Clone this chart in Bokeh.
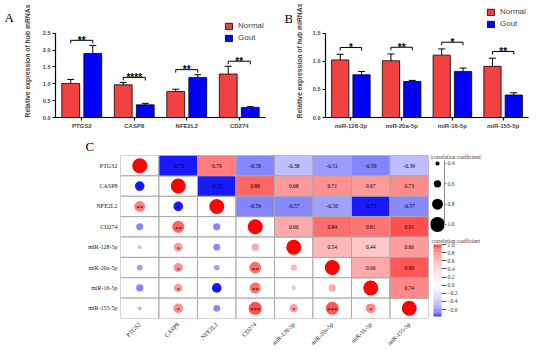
import numpy as np
from math import pi
from bokeh.plotting import figure
from bokeh.models import (ColumnDataSource, FactorRange, Range1d, FixedTicker, Legend, LegendItem,
                          Label, LinearColorMapper, CustomJSTickFormatter, PrintfTickFormatter, Title)
from bokeh.transform import dodge, transform
from bokeh.layouts import row, column
from bokeh.embed import file_html
from bokeh.resources import INLINE
from bokeh.core.properties import value

# ---------------- data ----------------
genes = ["PTGS2", "CASP8", "NFE2L2", "CD274"]
genes_normal = [1.01, 0.97, 0.77, 1.29]
genes_normal_sem = [0.12, 0.07, 0.07, 0.23]
genes_gout = [1.90, 0.375, 1.19, 0.30]
genes_gout_sem = [0.24, 0.045, 0.08, 0.02]
genes_sig = ["**", "****", "**", "**"]
genes_ticks = [0.0, 0.5, 1.0, 1.5, 2.0, 2.5]

mirs = ["miR-128-3p", "miR-20a-5p", "miR-16-5p", "miR-155-5p"]
mirs_normal = [1.025, 1.01, 1.11, 0.91]
mirs_normal_sem = [0.10, 0.12, 0.11, 0.145]
mirs_gout = [0.76, 0.64, 0.82, 0.40]
mirs_gout_sem = [0.06, 0.02, 0.06, 0.04]
mirs_sig = ["*", "**", "*", "**"]
mirs_ticks = [0.0, 0.5, 1.0, 1.5]

corr_names = ["PTGS2", "CASP8", "NFE2L2", "CD274",
              "miR-128-5p", "miR-20a-5p", "miR-16-5p", "miR-155-5p"]
corr_upper = [
    [-0.73, 0.79, -0.58, -0.38, -0.51, -0.59, -0.39],
    [-0.73, 0.86, 0.68, 0.71, 0.67, 0.73],
    [-0.59, -0.57, -0.50, -0.73, -0.57],
    [0.60, 0.84, 0.81, 0.91],
    [0.54, 0.44, 0.66],
    [0.60, 0.90],
    [0.74],
]
corr_stars = [
    ["*"],
    ["**", "*"],
    ["", "**", ""],
    ["", "*", "", ""],
    ["", "*", "", "**", ""],
    ["", "*", "*", "**", "", ""],
    ["", "*", "", "***", "*", "***", "*"],
]
size_legend_values = [0.4, 0.6, 0.8, 1.0]
colorbar_ticks = [1.0, 0.8, 0.6, 0.4, 0.2, 0.0, -0.2, -0.4, -0.6]
color_low, color_high = -0.77, 1.0

# ---------------- styles ----------------
SANS = "Liberation Sans"
SERIF = "Liberation Serif"
RED = "#f24141"
BLUE = "#0000ff"
RAMP_T = [0, 0.45, 0.6, 0.78, 0.9, 0.95, 1.0]
RAMP_G = [0, 0.22, 0.33, 0.5, 0.66, 0.9, 1.0]
TOP_H = 135
TOP_B, BOT_B = 4, 18


def ramp_palette(low, high, n=256):
    cols = []
    for i in range(n):
        v = low + (high - low) * (i + 0.5) / n
        if v >= 0:
            g = np.interp(v / high, RAMP_T, RAMP_G)
            c = int(round(255 * (1 - g)))
            cols.append("#%02x%02x%02x" % (255, c, c))
        else:
            g = np.interp(v / low, RAMP_T, RAMP_G)
            c = int(round(255 * (1 - g)))
            cols.append("#%02x%02x%02x" % (c, c, 255))
    return cols


def dot_size(r):
    return 15.0 * abs(r) ** 1.4


def letter_fig(letter, width, x, baseline_y):
    f = figure(width=width, height=TOP_H, x_range=Range1d(0, 1), y_range=Range1d(0, 1),
               x_axis_location=None, y_axis_location=None, min_border_left=0,
               min_border_right=0, min_border_top=TOP_B, min_border_bottom=BOT_B,
               toolbar_location=None, output_backend="svg")
    f.outline_line_color = None
    f.grid.visible = False
    f.add_layout(Label(x=x, y=TOP_H - BOT_B - baseline_y, x_units="screen", y_units="screen",
                       text=letter, text_font=SERIF, text_font_size="13px",
                       text_baseline="alphabetic", text_color="black"))
    return f


def bar_panel(cats, normal, nsem, gout, gsem, sig, ticks, ylabel, width, bl, br,
              ytop, gap, tick_len, legend_loc, label_standoff):
    p = figure(x_range=FactorRange(factors=cats), y_range=Range1d(0, ytop),
               width=width, height=TOP_H, min_border_left=bl, min_border_right=br,
               min_border_top=TOP_B, min_border_bottom=BOT_B, toolbar_location=None,
               output_backend="svg")
    ntop = [a + b for a, b in zip(normal, nsem)]
    gtop = [a + b for a, b in zip(gout, gsem)]
    br_y = [max(a, b) + gap for a, b in zip(ntop, gtop)]
    src = ColumnDataSource(dict(cat=cats, normal=normal, ntop=ntop, gout=gout, gtop=gtop,
                                bracket=br_y, bracket_low=[b - tick_len for b in br_y], sig=sig))
    xn = dodge("cat", -0.21, range=p.x_range)
    xg = dodge("cat", 0.21, range=p.x_range)
    rn = p.vbar(x=xn, top="normal", width=0.34, source=src, fill_color=RED,
                line_color="black", line_width=0.8)
    rg = p.vbar(x=xg, top="gout", width=0.34, source=src, fill_color=BLUE,
                line_color="black", line_width=0.8)
    for xx, lo, hi in ((xn, "normal", "ntop"), (xg, "gout", "gtop")):
        p.segment(x0=xx, y0=lo, x1=xx, y1=hi, source=src, line_color="black", line_width=1)
        p.scatter(x=xx, y=hi, source=src, marker="dash", size=7, line_color="black", line_width=1)
    p.segment(x0=xn, y0="bracket", x1=xg, y1="bracket", source=src, line_color="black", line_width=1)
    p.segment(x0=xn, y0="bracket", x1=xn, y1="bracket_low", source=src, line_color="black", line_width=1)
    p.segment(x0=xg, y0="bracket", x1=xg, y1="bracket_low", source=src, line_color="black", line_width=1)
    p.text(x="cat", y="bracket", text="sig", source=src, text_align="center",
           text_baseline="alphabetic", text_font=value(SANS), text_font_style="bold",
           text_font_size="10px", text_color="black")

    leg = Legend(items=[LegendItem(label="Normal", renderers=[rn]),
                        LegendItem(label="Gout", renderers=[rg])],
                 location=legend_loc, label_text_font=SANS, label_text_font_size="8px",
                 glyph_width=9, glyph_height=8, label_height=8, spacing=3, padding=0,
                 margin=0, border_line_color=None, background_fill_alpha=0, label_standoff=5)
    p.add_layout(leg)

    p.xgrid.visible = False
    p.ygrid.visible = False
    p.outline_line_color = None
    xa = p.xaxis[0]
    xa.axis_line_width = 1.2
    xa.major_tick_line_width = 1.2
    xa.major_tick_out = 3
    xa.major_tick_in = 0
    xa.major_label_text_font = SANS
    xa.major_label_text_font_style = "bold"
    xa.major_label_text_font_size = "6px"
    xa.major_label_standoff = 2
    ya = p.yaxis[0]
    ya.ticker = FixedTicker(ticks=ticks)
    ya.formatter = PrintfTickFormatter(format="%.1f")
    ya.bounds = (0, ticks[-1])
    ya.minor_tick_line_color = None
    ya.axis_line_width = 1.2
    ya.major_tick_line_width = 1.2
    ya.major_tick_out = 3
    ya.major_tick_in = 0
    ya.major_label_text_font = SANS
    ya.major_label_text_font_style = "bold"
    ya.major_label_text_font_size = "5.5px"
    ya.major_label_standoff = 2
    ya.axis_label = ylabel
    ya.axis_label_text_font = SANS
    ya.axis_label_text_font_style = "bold"
    ya.axis_label_text_font_size = "6.8px"
    ya.axis_label_standoff = label_standoff
    return p


lA = letter_fig("A", 20, 4, 17)
pA = bar_panel(genes, genes_normal, genes_normal_sem, genes_gout, genes_gout_sem, genes_sig,
               genes_ticks, "Relative expression of hub mRNAs", 260, 30, 15, 3.353,
               0.15, 0.09, (169, 75), 9)
lB = letter_fig("B", 12, 4, 18)
pB = bar_panel(mirs, mirs_normal, mirs_normal_sem, mirs_gout, mirs_gout_sem, mirs_sig,
               mirs_ticks, "Relative expression of hub miRNAs", 258, 28, 22, 2.011,
               0.12, 0.053, (161, 89), 7)

# ---------------- correlation panel ----------------
n = len(corr_names)
R = np.eye(n)
for i, vals in enumerate(corr_upper):
    for k, v in enumerate(vals):
        j = i + 1 + k
        R[i, j] = v
        R[j, i] = v

mapper = LinearColorMapper(palette=ramp_palette(color_low, color_high), low=color_low, high=color_high)

gx, gy = [], []
ux, uy, ur, ut = [], [], [], []
dx, dy, dr, ds, dst = [], [], [], [], []
for i in range(n):
    for j in range(n):
        gx.append(corr_names[j]); gy.append(corr_names[i])
        if j > i:
            ux.append(corr_names[j]); uy.append(corr_names[i]); ur.append(R[i, j])
            ut.append("%.2f" % R[i, j])
        else:
            dx.append(corr_names[j]); dy.append(corr_names[i]); dr.append(R[i, j])
            ds.append(dot_size(R[i, j]))
            dst.append(corr_stars[i - 1][j] if j < i else "")

pC = figure(x_range=FactorRange(factors=corr_names), y_range=FactorRange(factors=corr_names[::-1]),
            width=430, height=216, min_border_left=120, min_border_right=2, min_border_top=18,
            min_border_bottom=31, toolbar_location=None, output_backend="svg")
pC.title = Title(text="C", align="left", offset=-35, standoff=3, text_font=SERIF,
                 text_font_size="13px", text_font_style="normal", text_color="black")
pC.rect(x=gx, y=gy, width=1, height=1, fill_color="white", line_color="#a8a8a8", line_width=1)
usrc = ColumnDataSource(dict(x=ux, y=uy, r=ur, t=ut))
pC.rect(x="x", y="y", width=1, height=1, source=usrc, fill_color=transform("r", mapper),
        line_color="#a8a8a8", line_width=1)
pC.text(x="x", y="y", text="t", source=usrc, text_align="center", text_baseline="middle",
        text_font=value(SERIF), text_font_size="5.5px", text_color="black")
dsrc = ColumnDataSource(dict(x=dx, y=dy, r=dr, s=ds, st=dst))
pC.scatter(x="x", y="y", size="s", source=dsrc, fill_color=transform("r", mapper), line_color=None)
pC.text(x="x", y="y", text="st", source=dsrc, text_align="center", text_baseline="middle",
        y_offset=2, text_font=value(SERIF), text_font_size="7px", text_color="black")
pC.grid.visible = False
pC.outline_line_color = None
for ax in (pC.xaxis[0], pC.yaxis[0]):
    ax.axis_line_color = None
    ax.major_tick_line_color = None
    ax.minor_tick_line_color = None
    ax.major_tick_out = 0
    ax.major_tick_in = 0
    ax.major_label_text_font = SERIF
    ax.major_label_text_font_size = "6px"
    ax.major_label_text_color = "#222222"
pC.xaxis[0].major_label_orientation = pi / 4
pC.xaxis[0].major_label_standoff = 5
pC.yaxis[0].major_label_standoff = 3

# size legend (same horizontal borders as colour bar figure below it)
LEG_W, LEG_L, LEG_R = 120, 0, 106
pS = figure(x_range=Range1d(0, 1), y_range=Range1d(1.079, 0.3705), width=LEG_W, height=100,
            x_axis_location=None, y_axis_location="right", min_border_left=LEG_L,
            min_border_right=LEG_R, min_border_top=25, min_border_bottom=3,
            toolbar_location=None, output_backend="svg")
pS.title = Title(text="|correlation coefficient|", align="left", offset=0, standoff=1,
                 text_font=SERIF, text_font_size="5.5px", text_font_style="normal",
                 text_color="#333333")
pS.scatter(x=[0.5] * len(size_legend_values), y=size_legend_values,
           size=[dot_size(v) for v in size_legend_values], fill_color="black", line_color=None)
pS.grid.visible = False
pS.outline_line_color = None
sa = pS.yaxis[0]
sa.ticker = FixedTicker(ticks=size_legend_values)
sa.formatter = PrintfTickFormatter(format="%.1f")
sa.bounds = (0.37, 1.0)
sa.minor_tick_line_color = None
sa.axis_line_color = "#888888"
sa.major_tick_line_color = "#888888"
sa.major_tick_out = 2
sa.major_tick_in = 0
sa.major_label_standoff = 1
sa.major_label_text_font = SERIF
sa.major_label_text_font_size = "5.5px"
sa.major_label_text_color = "#333333"

# colour bar drawn as a narrow figure
pCB = figure(x_range=Range1d(0, 14), y_range=Range1d(color_low, color_high), width=LEG_W,
             height=116, x_axis_location=None, y_axis_location="right", min_border_left=LEG_L,
             min_border_right=LEG_R, min_border_top=9, min_border_bottom=35,
             toolbar_location=None, output_backend="svg")
pCB.title = Title(text="correlation coefficient", align="left", offset=1, standoff=1,
                  text_font=SERIF, text_font_size="5.5px", text_font_style="normal",
                  text_color="#333333")
steps = np.linspace(color_low, color_high, 178)
step_h = steps[1] - steps[0]
pCB.rect(x=7, y="y", width=8, height=step_h * 1.05, fill_color=transform("y", mapper),
         line_color=None, source=ColumnDataSource(dict(y=steps)))
pCB.grid.visible = False
pCB.outline_line_color = None
ca = pCB.yaxis[0]
ca.ticker = FixedTicker(ticks=colorbar_ticks)
ca.formatter = CustomJSTickFormatter(code="return tick.toFixed(1).replace('-', '\u2212');")
ca.axis_line_color = None
ca.minor_tick_line_color = None
ca.major_tick_line_color = "#555555"
ca.major_tick_out = 2
ca.major_tick_in = 3
ca.major_label_standoff = 1
ca.major_label_text_font = SERIF
ca.major_label_text_font_size = "5.5px"
ca.major_label_text_color = "#333333"

layout = column(row(lA, pA, lB, pB), row(pC, column(pS, pCB)))
open("out.html", "w").write(file_html(layout, INLINE))
